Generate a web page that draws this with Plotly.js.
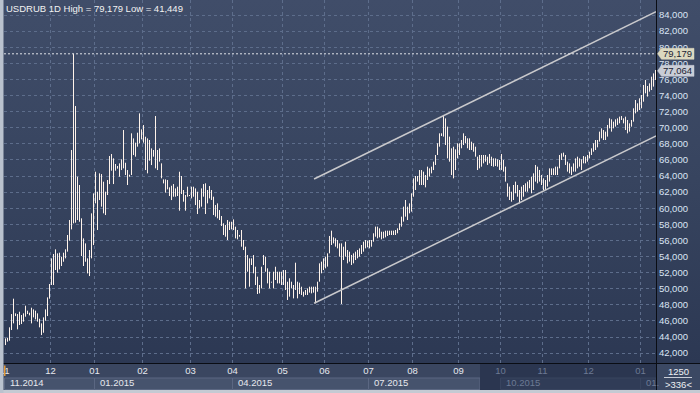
<!DOCTYPE html>
<html><head><meta charset="utf-8">
<script src="https://cdn.plot.ly/plotly-3.0.1.min.js"></script>
<style>
html,body{margin:0;padding:0;background:#2f3b55;}
#chart{width:700px;height:393px;background:linear-gradient(to bottom,#404d69 0px,#37445f 180px,#2c3853 363px,#2c3853 393px);}
</style></head><body><div id="chart"></div>
<script>
// ---- data (USDRUB daily) ----
const high = [
43.83,43.91,45.20,46.85,48.76,46.94,46.85,47.14,46.73,46.94,
47.89,47.27,47.02,47.64,47.43,47.27,46.94,46.27,45.69,46.44,
47.43,48.92,50.58,53.77,54.31,54.89,54.39,54.47,53.97,54.47,
54.89,56.67,58.53,67.23,79.18,72.69,63.91,62.88,58.74,56.25,
55.63,53.77,54.80,59.36,61.84,64.53,62.05,64.33,64.24,63.29,
62.05,63.50,66.48,66.73,66.19,65.49,65.24,65.57,66.07,69.71,
65.65,64.74,64.16,69.30,68.67,68.14,69.38,71.78,69.79,70.33,
68.88,68.67,68.47,67.43,67.23,71.45,67.23,67.43,65.57,63.58,
63.58,63.50,62.59,62.79,63.00,62.46,62.67,64.53,64.00,62.26,
61.64,62.67,61.64,62.67,62.67,62.46,62.05,61.02,62.46,63.00,
63.09,62.26,62.75,62.26,61.43,60.39,60.60,59.77,59.03,58.12,
57.91,58.53,58.32,58.32,58.61,57.70,57.29,56.67,57.29,56.05,
55.22,54.18,53.77,53.77,54.18,52.73,51.49,50.46,52.73,54.18,
53.98,52.53,52.11,50.87,52.11,52.73,52.11,52.11,52.11,52.32,
52.32,50.87,51.29,50.87,50.46,53.23,50.87,50.75,50.25,49.63,
49.84,50.04,50.25,50.25,50.25,50.25,50.87,53.15,53.36,53.77,
53.98,54.39,56.55,57.21,56.38,56.26,56.05,55.63,55.63,55.22,
55.84,54.81,54.60,54.19,54.39,54.60,54.81,55.01,55.43,55.84,
56.05,55.97,56.05,56.05,56.88,57.71,57.71,57.50,57.08,57.08,
57.21,57.21,57.21,57.21,57.21,57.29,57.50,58.12,58.95,60.19,
61.02,60.19,60.60,61.85,63.71,64.00,64.00,64.74,64.74,64.54,
64.12,65.16,64.95,65.16,65.78,66.61,68.06,69.30,69.30,71.58,
71.16,70.13,68.89,67.44,67.64,67.31,68.06,68.06,68.47,69.30,
68.97,68.68,68.68,68.26,68.06,67.64,66.40,66.61,66.61,66.61,
66.61,66.40,66.73,66.40,66.19,66.19,66.07,65.99,66.73,65.99,
65.16,63.09,62.68,62.05,62.88,63.30,62.88,62.26,62.68,62.88,
63.09,63.30,63.50,63.92,64.33,65.37,65.16,64.75,64.12,63.71,
63.50,64.12,64.95,64.95,64.95,65.16,65.16,66.61,66.82,66.90,
66.61,65.78,65.57,65.16,65.57,66.19,66.40,66.19,66.07,66.48,
66.40,66.61,67.02,67.44,68.06,68.47,68.47,69.51,69.92,69.71,
69.51,70.34,71.16,71.04,70.75,71.04,71.16,71.37,71.45,71.16,
71.37,70.96,70.54,70.96,72.41,73.44,73.03,73.65,74.06,75.30,
75.93,75.18,75.51,76.34,76.75,77.17];
const low = [
43.00,43.42,43.54,44.87,45.69,46.60,44.95,45.49,45.61,45.90,
46.52,46.85,46.69,45.69,46.44,46.19,45.90,45.20,44.24,44.53,
46.02,46.60,48.76,50.46,50.46,52.32,51.99,52.40,52.82,53.35,
53.77,54.60,55.96,57.37,58.12,58.20,58.53,58.32,54.06,52.82,
53.35,51.90,51.57,53.77,55.42,60.60,57.29,61.01,60.19,59.36,
59.15,61.64,63.00,64.66,63.00,64.66,64.91,63.91,64.74,64.95,
64.12,62.88,63.91,64.12,66.60,66.40,67.64,68.05,68.55,68.14,
64.74,64.33,65.90,65.36,66.40,64.95,64.74,65.78,63.71,63.08,
61.93,62.34,61.51,61.01,61.43,61.43,61.51,59.69,61.76,60.81,
59.69,61.43,61.51,61.22,61.43,60.39,59.28,59.98,60.19,61.43,
59.28,60.60,61.22,61.02,59.15,58.95,58.74,58.53,57.79,56.67,
56.46,56.05,57.29,57.37,57.29,56.25,56.13,56.46,55.22,54.80,
50.04,52.11,50.25,52.94,51.91,50.46,49.34,49.42,50.04,52.94,
52.11,50.66,50.04,50.75,50.04,51.08,50.66,50.66,50.46,50.46,
49.84,48.60,49.01,50.04,48.80,49.84,48.80,49.34,49.22,49.01,
49.22,49.22,49.51,49.42,49.51,48.18,49.63,50.87,51.91,52.32,
52.53,52.74,54.39,55.43,55.63,55.22,55.01,53.98,48.10,53.56,
53.98,53.15,53.36,52.94,53.15,53.56,53.77,53.98,54.31,54.60,
55.01,55.14,55.01,55.22,55.84,56.46,56.26,56.38,56.13,56.26,
56.38,56.55,56.67,56.67,56.67,56.67,56.88,57.29,57.71,58.33,
58.95,58.53,59.36,59.57,61.43,62.26,63.30,62.88,62.88,62.88,
62.59,63.50,63.92,64.33,64.74,65.37,66.61,67.64,68.97,68.89,
67.85,66.19,65.78,64.12,63.71,64.74,66.19,66.61,67.44,67.85,
68.06,67.44,67.23,67.23,67.02,66.40,64.74,64.95,65.16,65.57,
65.78,65.37,65.57,65.24,65.16,65.24,65.16,64.75,64.75,64.54,
63.30,61.43,61.02,60.81,61.02,61.85,61.43,60.60,61.02,61.43,
62.05,62.05,62.47,61.85,62.26,63.30,63.09,63.30,62.88,62.26,
62.26,62.68,63.30,64.12,64.12,64.12,64.12,64.95,65.99,66.40,
65.37,64.54,64.33,64.12,64.54,64.54,64.95,65.16,64.75,65.57,
65.57,65.78,66.19,66.61,67.02,67.23,67.56,68.27,68.68,68.47,
68.47,68.89,69.92,69.51,69.92,70.13,70.34,70.54,70.96,70.54,
69.71,69.30,69.51,70.13,70.75,71.78,71.99,72.20,72.41,73.23,
74.27,73.86,74.48,74.68,75.10,75.93];

const monthStart  = [0,23,45,69,93,114,139,160,182,204,227,248,269,292,318];
const monthLabels = ['11','12','01','02','03','04','05','06','07','08','09','10','11','12','01'];
const monthFaded  = [false,false,false,false,false,false,false,false,false,false,false,true,true,true,true];
const periodStart  = [0,45,114,182,248,318];
const periodLabels = ['11.2014','01.2015','04.2015','07.2015','10.2015','01.'];
const periodFaded  = [false,false,false,false,true,true];
const yTicks = [42,44,46,48,50,52,54,56,58,60,62,64,66,68,70,72,74,76,78,80,82,84];
const periodHigh = 79.179, periodLow = 41.449, lastClose = 77.064;
const channelX = [154.3, 325.3];
const channelUpper = [63.63, 84.41];
const channelLower = [48.19, 68.97];
const footerTop = '1250', footerBottom = '&gt;336&lt;';

// ---- geometry ----
const W = 700, H = 393, ML = 4, MR = 44, MT = 0, MB = 30;
const PW = W - ML - MR, PH = H - MT - MB;
const X0 = -0.75, X1 = high.length - 0.75;
const Y0 = 40.77, Y1 = 85.863;
const PX = px => (px - ML) / PW;
const PY = py => (PH + MT - py) / PH;
const IX = i => (i - X0) / (X1 - X0);
const VY = v => MT + (Y1 - v) / (Y1 - Y0) * PH; // value -> pixel y
const fmt = v => v.toFixed(3).replace('.', ',');
const FONT = 'Liberation Sans, Arial, sans-serif';

// bars as high-low segments
const bx = [], by = [];
for (let i = 0; i < high.length; i++) { bx.push(i, i, null); by.push(low[i], high[i], null); }

const traces = [
  {type:'scatter', mode:'lines', x:bx, y:by, line:{color:'#fff3ea', width:1}, hoverinfo:'skip'},
  {type:'scatter', mode:'lines', x:channelX, y:channelUpper, line:{color:'#c9c9cc', width:1.5}, hoverinfo:'skip'},
  {type:'scatter', mode:'lines', x:channelX, y:channelLower, line:{color:'#c9c9cc', width:1.5}, hoverinfo:'skip'}
];

const shapes = [];
const annotations = [];
const rect = (x0,x1,y0,y1,fill,line,layer) => shapes.push({type:'rect', xref:'paper', yref:'paper',
  x0:x0, x1:x1, y0:y0, y1:y1, fillcolor:fill, line:line||{width:0}, layer:layer||'below'});

// x-axis rows
rect(PX(0), PX(W), PY(363), PY(390), '#3a4660');
for (let k = 0; k < periodStart.length; k++) {
  const a = IX(periodStart[k] - 0.5);
  const b = k + 1 < periodStart.length ? IX(periodStart[k+1] - 0.5) : PX(656);
  if (!periodFaded[k]) rect(a, Math.min(b, PX(480)), PY(378), PY(389.5), '#46536d', {color:'#5b6782', width:1});
}
rect(PX(480), PX(656), PY(363), PY(390), '#2b3650');
for (let k = 0; k < periodStart.length; k++) {
  if (!periodFaded[k]) continue;
  const a = IX(periodStart[k] - 0.5);
  const b = k + 1 < periodStart.length ? IX(periodStart[k+1] - 0.5) : PX(656);
  rect(a, b, PY(378), PY(389.5), '#303c57', {color:'#38445f', width:1});
}
for (let k = 0; k < periodStart.length; k++) {
  annotations.push({xref:'paper', yref:'paper', x:IX(periodStart[k] - 0.5) + 4/PW, y:PY(382.5),
    xanchor:'left', yanchor:'middle', showarrow:false, borderpad:0,
    text:periodLabels[k], font:{family:FONT, size:9.5, color: periodFaded[k] ? '#6c7a94' : '#e6e8ee'}});
}
// corner box
rect(PX(656.5), PX(W), PY(363), PY(390), '#3b4863');
shapes.push({type:'line', xref:'paper', yref:'paper', x0:PX(664), x1:PX(692), y0:PY(377.5), y1:PY(377.5), line:{color:'#c9ced8', width:1}, layer:'above'});
annotations.push({xref:'paper', yref:'paper', x:PX(678), y:PY(371), xanchor:'center', yanchor:'middle', showarrow:false,
  text:footerTop, font:{family:FONT, size:9.5, color:'#eef0f4'}});
annotations.push({xref:'paper', yref:'paper', x:PX(678), y:PY(384), xanchor:'center', yanchor:'middle', showarrow:false,
  text:footerBottom, font:{family:FONT, size:9.5, color:'#eef0f4'}});
// frame
shapes.push({type:'line', xref:'paper', yref:'paper', x0:PX(656.5), x1:PX(656.5), y0:PY(363), y1:PY(390), line:{color:'#0a0d14', width:1}, layer:'above'});
shapes.push({type:'line', xref:'paper', yref:'paper', x0:PX(0), x1:PX(W), y0:PY(363.5), y1:PY(363.5), line:{color:'#0a0d14', width:1}, layer:'above'});
rect(PX(0), PX(W), PY(390), PY(H), '#c4cad3', null, 'above');
rect(PX(0), PX(3.5), PY(0), PY(H), '#bac2ce', null, 'above');
rect(PX(4), PX(5.5), PY(365.5), PY(376), '#e39a3a', null, 'above');

// high dashed line and price tags
shapes.push({type:'line', xref:'paper', yref:'y', x0:0, x1:1, y0:periodHigh, y1:periodHigh,
  line:{color:'#dfe2e8', width:1, dash:'2px,2px'}, layer:'above'});
function tag(v, fill) {
  const c = VY(v);
  shapes.push({type:'path', xref:'paper', yref:'paper', layer:'above', fillcolor:fill, line:{color:fill, width:0.5},
    path:`M${PX(657.5)},${PY(c)} L${PX(661.5)},${PY(c-5.5)} L${PX(694)},${PY(c-5.5)} L${PX(694)},${PY(c+5.5)} L${PX(661.5)},${PY(c+5.5)} Z`});
  annotations.push({xref:'paper', yref:'paper', x:PX(677.5), y:PY(c), xanchor:'center', yanchor:'middle', showarrow:false,
    text:fmt(v), font:{family:FONT, size:9.5, color:'#1b2334'}});
}
tag(periodHigh, '#dcd9bf');
tag(lastClose, '#c9cdd6');

// title
annotations.push({xref:'paper', yref:'paper', x:PX(5), y:PY(8), xanchor:'left', yanchor:'middle', showarrow:false, borderpad:0,
  text:`USDRUB 1D High = ${fmt(periodHigh)} Low = ${fmt(periodLow)}`, font:{family:FONT, size:9.5, color:'#f2f2f2'}});

const layout = {
  width:W, height:H, margin:{l:ML, r:MR, t:MT, b:MB, pad:0},
  paper_bgcolor:'rgba(0,0,0,0)', plot_bgcolor:'rgba(0,0,0,0)',
  separators:',.', showlegend:false, hovermode:false,
  xaxis:{range:[X0, X1], tickmode:'array', tickvals:monthStart.map(i => i - 0.5),
    ticktext:monthLabels.map((t,k) => monthFaded[k] ? `<span style="color:#6c7a94">${t}</span>` : t),
    ticklabeloverflow:'allow',
    showgrid:true, gridcolor:'#5d6d8b', griddash:'3px,3px', gridwidth:1, zeroline:false,
    showline:false, ticks:'', tickfont:{family:FONT, size:9.5, color:'#e6e8ee'}, fixedrange:true},
  yaxis:{range:[Y0, Y1], side:'right', tickmode:'array', tickvals:yTicks, tickformat:'.3f',
    showgrid:true, gridcolor:'#5d6d8b', griddash:'3px,3px', gridwidth:1, zeroline:false,
    showline:true, linecolor:'#0a0d14', linewidth:1, ticks:'', tickfont:{family:FONT, size:9.5, color:'#dbe5f4'}, fixedrange:true},
  shapes:shapes, annotations:annotations
};
Plotly.newPlot('chart', traces, layout, {staticPlot:true, displayModeBar:false});
</script></body></html>
